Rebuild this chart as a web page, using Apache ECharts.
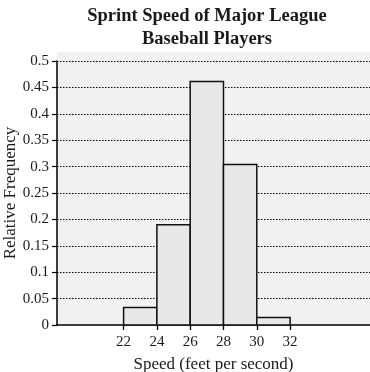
<!DOCTYPE html>
<html>
<head>
<meta charset="utf-8">
<script src="https://cdn.jsdelivr.net/npm/echarts@6/dist/echarts.min.js"></script>
<style>
html,body{margin:0;padding:0;background:#fff;}
#c{width:370px;height:372px;}
</style>
</head>
<body>
<div id="c"></div>
<script>
var binStarts = [22, 24, 26, 28, 30];
var binEnds = [24, 26, 28, 30, 32];
var relFreq = [0.033, 0.19, 0.461, 0.304, 0.014];
var xTickLabels = [22, 24, 26, 28, 30, 32];
var yTicks = [0, 0.05, 0.1, 0.15, 0.2, 0.25, 0.3, 0.35, 0.4, 0.45, 0.5];

var chart = echarts.init(document.getElementById('c'));
var font = '"Liberation Serif", "DejaVu Serif", serif';
var data = binStarts.map(function (s, i) { return [s, binEnds[i], relFreq[i]]; });

chart.setOption({
  animation: false,
  backgroundColor: '#ffffff',
  title: {
    text: 'Sprint Speed of Major League\nBaseball Players',
    left: 202, top: 0, textAlign: 'center',
    textStyle: { fontFamily: font, fontWeight: 'bold', fontSize: 18.5, lineHeight: 23, color: '#1a1a1a' }
  },
  graphic: [{
    type: 'rect', z: -10, silent: true,
    shape: { x: 57, y: 52, width: 313, height: 273 },
    style: { fill: '#f1f1f1' }
  }],
  grid: { left: 57, right: 0, top: 61, bottom: 47, outerBoundsMode: 'none', containLabel: false },
  xAxis: {
    type: 'value', min: 18, max: 36.8, interval: 2,
    name: 'Speed (feet per second)', nameLocation: 'middle', nameGap: 31, nameMoveOverlap: false,
    nameTextStyle: { fontFamily: font, fontSize: 17, color: '#1a1a1a' },
    axisLine: { show: true, onZero: false, lineStyle: { color: '#000', width: 1.5 } },
    axisTick: { show: true, length: 5, lineStyle: { color: '#000', width: 1.3 }, customValues: xTickLabels },
    axisLabel: { fontFamily: font, fontSize: 15, color: '#1a1a1a', margin: 10, customValues: xTickLabels },
    splitLine: { show: false }
  },
  yAxis: {
    type: 'value', min: 0, max: 0.5, interval: 0.05,
    name: 'Relative Frequency', nameLocation: 'middle', nameGap: 38, nameMoveOverlap: false,
    nameTextStyle: { fontFamily: font, fontSize: 17, color: '#1a1a1a' },
    axisLine: { show: true, lineStyle: { color: '#000', width: 1.5 } },
    axisTick: { show: true, length: 5, lineStyle: { color: '#000', width: 1.2 } },
    axisLabel: {
      fontFamily: font, fontSize: 15, color: '#1a1a1a', margin: 8,
      formatter: function (v) { return String(Math.round(v * 100) / 100); }
    },
    splitLine: { show: true, showMinLine: false, lineStyle: { color: '#000', width: 1, type: [1.5, 1.5] } }
  },
  series: [{
    type: 'custom',
    data: data,
    z: 5,
    renderItem: function (params, api) {
      var p0 = api.coord([api.value(0), 0]);
      var p1 = api.coord([api.value(1), api.value(2)]);
      return {
        type: 'rect',
        shape: { x: p0[0], y: p1[1], width: p1[0] - p0[0], height: p0[1] - p1[1] },
        style: { fill: '#e8e8e8', stroke: '#111', lineWidth: 1.5 }
      };
    },
    encode: { x: [0, 1], y: 2 }
  }]
});
</script>
</body>
</html>
